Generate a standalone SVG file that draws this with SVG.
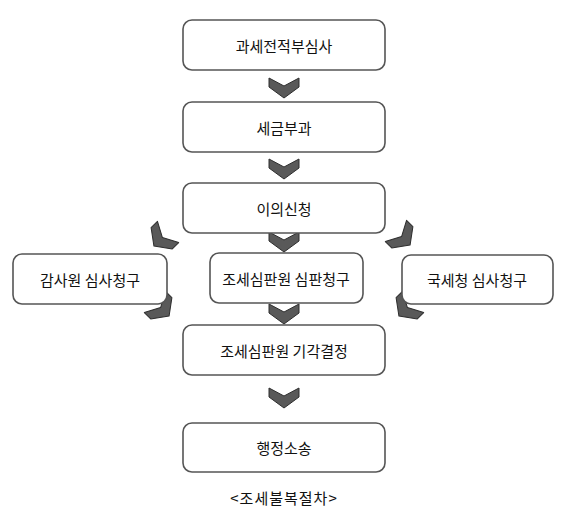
<svg xmlns="http://www.w3.org/2000/svg" width="567" height="529" viewBox="0 0 567 529">
<defs>
<style>
.box{fill:#fff;stroke:#555;stroke-width:1.6}
.t{font-family:"Noto Sans CJK KR","Noto Sans",sans-serif;font-size:15px;fill:#111;text-anchor:middle;dominant-baseline:central}
.chev{fill:#595959;stroke:#2e2e2e;stroke-width:1;stroke-linejoin:round}
</style>
<polygon id="chv" class="chev" points="-15,-10 0,-2 15,-10 15,-1 0,10 -15,-1"/>
</defs>
<rect width="567" height="529" fill="#fff"/>
<g id="connectors">
<use href="#chv" transform="translate(284,88)"/>
<use href="#chv" transform="translate(284,169)"/>
<use href="#chv" transform="translate(284,242)"/>
<use href="#chv" transform="translate(284,314)"/>
<use href="#chv" transform="translate(284,398)"/>
<use href="#chv" transform="translate(161,239) rotate(45)"/>
<use href="#chv" transform="translate(162,309) rotate(-45)"/>
<use href="#chv" transform="translate(403,238) rotate(-45)"/>
<use href="#chv" transform="translate(406,309) rotate(45)"/>
</g>
<g id="n1"><rect class="box" x="183" y="20" width="202" height="50" rx="9"/><text class="t" x="284" y="45">과세전적부심사</text></g>
<g id="n2"><rect class="box" x="183" y="102" width="202" height="50" rx="9"/><text class="t" x="284" y="127">세금부과</text></g>
<g id="n3"><rect class="box" x="183" y="183" width="202" height="50" rx="9"/><text class="t" x="284" y="208">이의신청</text></g>
<g id="n4"><rect class="box" x="13" y="254" width="154" height="50" rx="9"/><text class="t" x="90" y="279">감사원 심사청구</text></g>
<g id="n5"><rect class="box" x="210" y="253" width="153" height="50" rx="9"/><text class="t" x="286" y="278">조세심판원 심판청구</text></g>
<g id="n6"><rect class="box" x="402" y="255" width="151" height="49" rx="9"/><text class="t" x="477" y="279">국세청 심사청구</text></g>
<g id="n7"><rect class="box" x="183" y="325" width="202" height="50" rx="9"/><text class="t" x="284" y="350">조세심판원 기각결정</text></g>
<g id="n8"><rect class="box" x="183" y="423" width="202" height="49" rx="9"/><text class="t" x="284" y="447">행정소송</text></g>
<text class="t" x="284" y="497" style="letter-spacing:1px">&lt;조세불복절차&gt;</text>
</svg>
